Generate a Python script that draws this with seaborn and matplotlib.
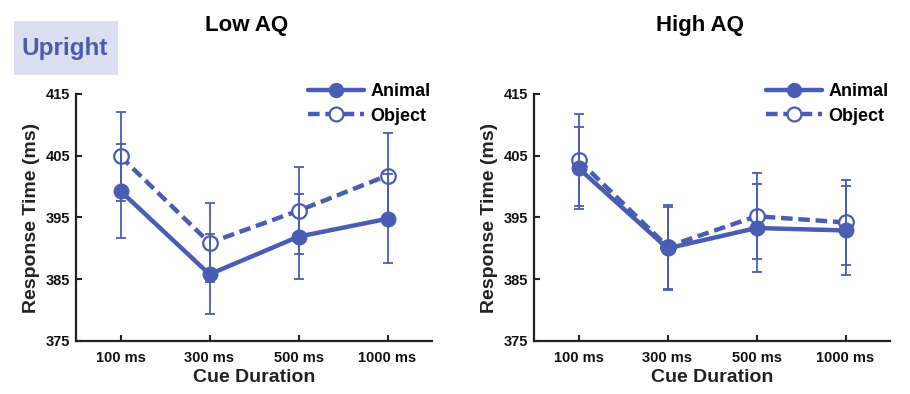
import numpy as np
import pandas as pd
import matplotlib
matplotlib.use("Agg")
import matplotlib.pyplot as plt
import seaborn as sns
from matplotlib.lines import Line2D
from matplotlib.patches import Rectangle

# data
durations = ["100 ms", "300 ms", "500 ms", "1000 ms"]
groups = ["Low AQ", "High AQ"]

low_animal = [399.3, 385.8, 391.9, 394.8]
low_animal_err = [7.6, 6.5, 6.9, 7.2]
low_object = [404.9, 390.9, 396.1, 401.8]
low_object_err = [7.2, 6.4, 7.0, 6.9]

high_animal = [403.0, 390.0, 393.3, 392.9]
high_animal_err = [6.6, 6.7, 7.2, 7.2]
high_object = [404.3, 390.3, 395.2, 394.2]
high_object_err = [7.5, 6.8, 7.0, 6.9]

yticks = [375, 385, 395, 405, 415]

blue = "#4a5db4"
dark = "#222222"

sns.set_theme(style="ticks")
plt.rcParams["font.family"] = ["Liberation Sans", "DejaVu Sans"]
plt.rcParams["font.weight"] = "bold"
plt.rcParams["text.color"] = "black"
plt.rcParams["xtick.labelcolor"] = "#111111"
plt.rcParams["ytick.labelcolor"] = "#111111"


def make_df(animal, animal_err, obj, obj_err):
    rows = []
    for i, d in enumerate(durations):
        rows.append({"pos": i, "Duration": d, "Category": "Animal", "RT": animal[i], "SE": animal_err[i]})
        rows.append({"pos": i, "Duration": d, "Category": "Object", "RT": obj[i], "SE": obj_err[i]})
    return pd.DataFrame(rows)


def draw_panel(ax, df, title, title_x):
    obj = df[df.Category == "Object"]
    ani = df[df.Category == "Animal"]

    sns.lineplot(data=obj, x="pos", y="RT", ax=ax, color=blue, lw=3.2,
                 linestyle=(0, (2.6, 1.3)), marker="o", markersize=10.5,
                 markerfacecolor="white", markeredgecolor=blue, markeredgewidth=1.6,
                 zorder=2, legend=False)
    ax.errorbar(df["pos"], df["RT"], yerr=df["SE"], fmt="none", ecolor=blue,
                elinewidth=1.3, capsize=3.6, capthick=1.3, zorder=3)
    sns.lineplot(data=ani, x="pos", y="RT", ax=ax, color=blue, lw=3.2,
                 marker="o", markersize=10.5, markerfacecolor=blue,
                 markeredgecolor=blue, markeredgewidth=1, zorder=4, legend=False)

    ax.set_xlim(-0.5, 3.5)
    ax.set_ylim(375, 415)
    ax.set_xticks(range(len(durations)))
    ax.set_xticklabels(durations, fontsize=10.5, fontweight="bold")
    ax.set_yticks(yticks)
    ax.set_yticklabels([str(v) for v in yticks], fontsize=10.5, fontweight="bold")
    ax.tick_params(axis="both", direction="in", length=4.5, width=1.5, color=dark)
    ax.tick_params(axis="x", pad=7.5)
    ax.tick_params(axis="y", pad=4)
    ax.set_xlabel("Cue Duration", fontsize=14, fontweight="bold", labelpad=2.5, color=dark)
    ax.set_ylabel("Response Time (ms)", fontsize=14, fontweight="bold", labelpad=4, color=dark)
    sns.despine(ax=ax)
    for s in ["left", "bottom"]:
        ax.spines[s].set_linewidth(1.6)
        ax.spines[s].set_color(dark)

    handles = [
        Line2D([], [], color=blue, lw=3.2, marker="o", markersize=10,
               markerfacecolor=blue, markeredgecolor=blue),
        Line2D([], [], color=blue, lw=3.2, linestyle=(0, (2.6, 1.3)), marker="o",
               markersize=10, markerfacecolor="white", markeredgecolor=blue,
               markeredgewidth=1.6),
    ]
    ax.legend(handles, ["Animal", "Object"], loc="upper left",
              bbox_to_anchor=(0.652, 1.043), frameon=False,
              borderaxespad=0, borderpad=0, handlelength=3.1,
              handletextpad=0.35, labelspacing=0.4,
              prop={"size": 13, "weight": "bold"})

    ax.figure.text(title_x, 1 - 26 / 394, title, ha="center", va="center",
                   fontsize=16, fontweight="bold", color="black")


fig = plt.figure(figsize=(9.1, 3.94), dpi=100)
ax1 = fig.add_axes([76 / 910, 1 - 341 / 394, 356 / 910, 247 / 394])
ax2 = fig.add_axes([534 / 910, 1 - 341 / 394, 356 / 910, 247 / 394])

draw_panel(ax1, make_df(low_animal, low_animal_err, low_object, low_object_err),
           groups[0], 247 / 910)
draw_panel(ax2, make_df(high_animal, high_animal_err, high_object, high_object_err),
           groups[1], 700 / 910)

# "Upright" label box
fig.add_artist(Rectangle((14 / 910, 1 - 75 / 394), 104 / 910, 54 / 394,
                         transform=fig.transFigure, facecolor="#dcdff0",
                         edgecolor="none"))
fig.text(65 / 910, 1 - 48 / 394, "Upright", ha="center", va="center",
         fontsize=17.5, fontweight="bold", color="#4a5cb0")

fig.savefig("out.png", dpi=100)
